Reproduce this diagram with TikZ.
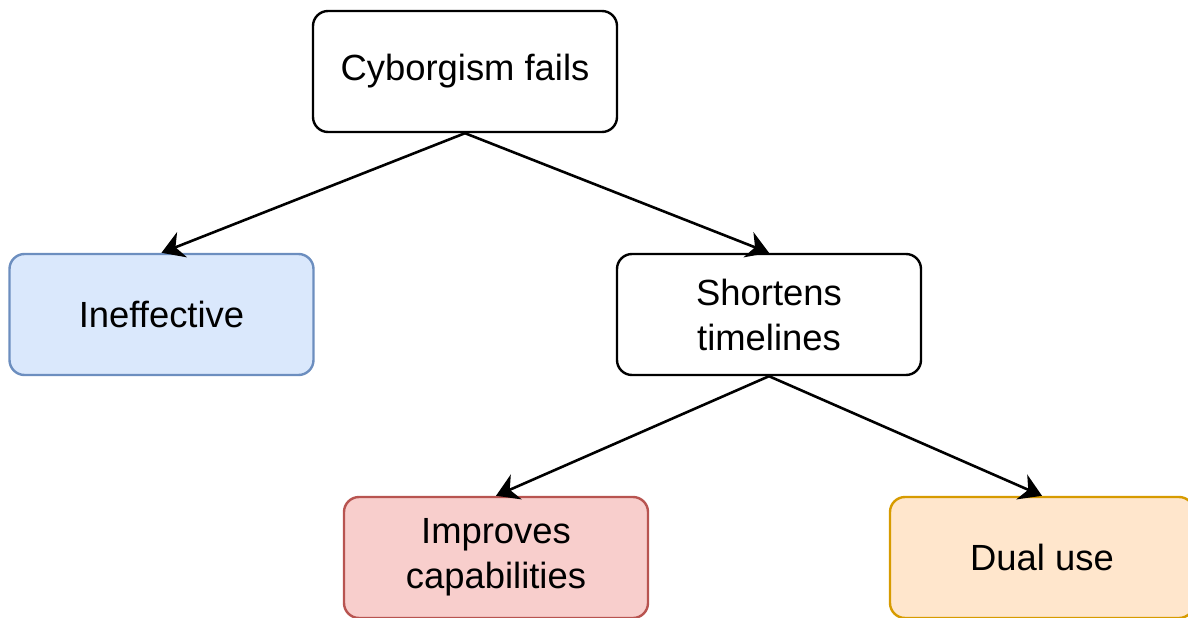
\documentclass[tikz,border=0pt]{standalone}
\usepackage{fontspec}
\setmainfont{Liberation Sans}
\usetikzlibrary{arrows.meta}
\definecolor{bluefill}{HTML}{DAE8FC}
\definecolor{blueline}{HTML}{6C8EBF}
\definecolor{redfill}{HTML}{F8CECC}
\definecolor{redline}{HTML}{B85450}
\definecolor{orangefill}{HTML}{FFE6CC}
\definecolor{orangeline}{HTML}{D79B00}
\tikzset{
  box/.style={draw=black, fill=white, line width=1.2pt, rounded corners=7.5pt,
    minimum width=152pt, minimum height=60.5pt, inner sep=0pt, align=center,
    font=\fontsize{18.2}{22.5}\selectfont},
  conn/.style={line width=1.3pt, -{Stealth[length=11pt,width=13.5pt,inset=3.5pt]}}
}
\begin{document}
\begin{tikzpicture}[x=1pt,y=1pt]
\useasboundingbox (0,0) rectangle (594,308.5);
\clip (0,0) rectangle (594,308.5);
\node[box] (a) at (232.5,272.75) {Cyborgism fails};
\node[box, fill=bluefill, draw=blueline] (b) at (80.75,151.25) {Ineffective};
\node[box] (c) at (384.5,151.25) {Shortens\\timelines};
\node[box, fill=redfill, draw=redline] (d) at (248,29.75) {Improves\\capabilities};
\node[box, fill=orangefill, draw=orangeline] (e) at (521,29.75) {Dual use};
\draw[conn] (a.south) -- (b.north);
\draw[conn] (a.south) -- (c.north);
\draw[conn] (c.south) -- (d.north);
\draw[conn] (c.south) -- (e.north);
\end{tikzpicture}
\end{document}
